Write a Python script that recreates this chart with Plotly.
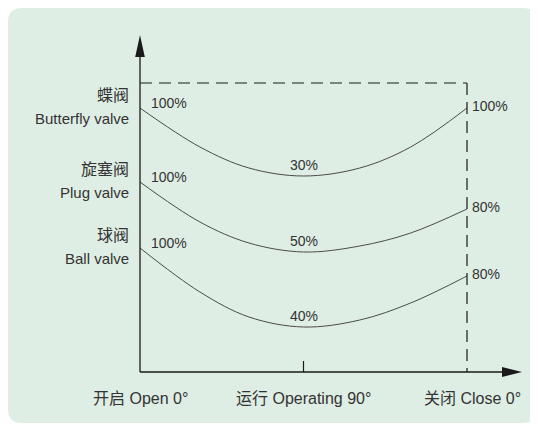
import plotly.graph_objects as go

# ---- data (schematic torque curves; heights in chart units above the x axis) ----
x_pos = [0, 33, 60, 90, 121, 149, 180]
butterfly = [264, 225, 204, 196, 204, 225, 264]
plug = [190, 150, 129, 120, 126, 139, 163]
ball = [124, 80, 55, 45, 52, 69, 96]

series_cn = ["蝶阀", "旋塞阀", "球阀"]
series_en = ["Butterfly valve", "Plug valve", "Ball valve"]
start_pct = ["100%", "100%", "100%"]
mid_pct = ["30%", "50%", "40%"]
end_pct = ["100%", "80%", "80%"]

x_ticks = [0, 90, 180]
x_tick_labels = ["开启 Open 0°", "运行 Operating 90°", "关闭 Close 0°"]

# ---- geometry (reference pixel positions, page offset compensated) ----
OFF = 8
PAD = 12
W, H = 538 - OFF, 425 - OFF
AX_L, AX_R, AX_T, AX_B = 140, 522, 35, 372      # screen pixels of axis extents
PL, PR, PT, PB = AX_L - PAD, AX_R + PAD, AX_T - PAD, AX_B + PAD   # plot area incl. padding
ML, MR, MT, MB = PL - OFF, 538 - PR, PT - OFF, 425 - PB
PW, PH = PR - PL, PB - PT
XU = 327 / 180.0          # pixels per x unit
X_MAX = (AX_R - AX_L) / XU
Y_MAX = AX_B - AX_T       # 1 y unit = 1 px
TOP_DASH = 289

FONT = "Liberation Sans, Noto Sans CJK SC, sans-serif"
TXT = "#333333"

def pxp(px):
    return (px - PL) / PW

def pyp(py):
    return (PB - py) / PH

fig = go.Figure()
for ys in [butterfly, plug, ball]:
    fig.add_trace(go.Scatter(x=x_pos, y=ys, mode="lines",
                             line=dict(color="#4a4a4a", width=1, shape="spline", smoothing=1.0),
                             hoverinfo="skip", showlegend=False))

shapes = []
# rounded background
x0, x1, y0, y1 = pxp(8), pxp(537), pyp(423), pyp(8)
rx, ry = 14 / PW, 14 / PH
path = (f"M {x0+rx},{y1} L {x1-rx},{y1} Q {x1},{y1} {x1},{y1-ry} "
        f"L {x1},{y0+ry} Q {x1},{y0} {x1-rx},{y0} L {x0+rx},{y0} "
        f"Q {x0},{y0} {x0},{y0+ry} L {x0},{y1-ry} Q {x0},{y1} {x0+rx},{y1} Z")
shapes.append(dict(type="path", path=path, xref="paper", yref="paper",
                   fillcolor="#dfeee4", line=dict(width=0), layer="below"))
# axes
shapes.append(dict(type="line", x0=0, x1=X_MAX - 8, y0=0, y1=0, xref="x", yref="y",
                   line=dict(color="#1a1a1a", width=1.3)))
shapes.append(dict(type="line", x0=0, x1=0, y0=0, y1=Y_MAX - 15, xref="x", yref="y",
                   line=dict(color="#1a1a1a", width=1.3)))
# arrowheads
ah = 4.8 / XU
shapes.append(dict(type="path", xref="x", yref="y",
                   path=f"M {-ah},{Y_MAX-22} L {ah},{Y_MAX-22} L 0,{Y_MAX} Z",
                   fillcolor="#1a1a1a", line=dict(width=0)))
xb = X_MAX - 20 / XU
shapes.append(dict(type="path", xref="x", yref="y",
                   path=f"M {xb},-5 L {xb},5 L {X_MAX},0 Z",
                   fillcolor="#1a1a1a", line=dict(width=0)))
# dashed box
shapes.append(dict(type="line", x0=0, x1=x_ticks[2], y0=TOP_DASH, y1=TOP_DASH, xref="x", yref="y",
                   line=dict(color="#1a1a1a", width=1.2, dash="12px,7px")))
shapes.append(dict(type="line", x0=x_ticks[2], x1=x_ticks[2], y0=TOP_DASH, y1=0, xref="x", yref="y",
                   line=dict(color="#1a1a1a", width=1.2, dash="12px,7px")))
# middle tick
shapes.append(dict(type="line", x0=x_ticks[1], x1=x_ticks[1], y0=0, y1=11, xref="x", yref="y",
                   line=dict(color="#1a1a1a", width=1.2)))

ann = []
curves = [butterfly, plug, ball]
for i, ys in enumerate(curves):
    ann.append(dict(x=0, y=ys[0] + 13, text=series_cn[i], xanchor="right", yanchor="middle",
                    xshift=-9, showarrow=False, font=dict(size=16, color=TXT, family=FONT)))
    ann.append(dict(x=0, y=ys[0] - 10, text=series_en[i], xanchor="right", yanchor="middle",
                    xshift=-9, showarrow=False, font=dict(size=15, color=TXT, family=FONT)))
    ann.append(dict(x=0, y=ys[0] + 5, text=start_pct[i], xanchor="left", yanchor="middle",
                    xshift=9, showarrow=False, font=dict(size=14, color=TXT, family=FONT)))
    ann.append(dict(x=x_pos[3], y=ys[3] + 11, text=mid_pct[i], xanchor="center", yanchor="middle",
                    showarrow=False, font=dict(size=14, color=TXT, family=FONT)))
    ann.append(dict(x=x_pos[-1], y=ys[-1] + 2, text=end_pct[i], xanchor="left", yanchor="middle",
                    xshift=3, showarrow=False, font=dict(size=14, color=TXT, family=FONT)))
for xv, t in zip(x_ticks, x_tick_labels):
    ann.append(dict(x=xv, xref="x", y=pyp(398), yref="paper", text=t,
                    xanchor="center", yanchor="middle",
                    xshift=5 if xv == x_ticks[2] else 0,
                    showarrow=False, font=dict(size=16, color=TXT, family=FONT)))

fig.update_layout(
    width=W, height=H,
    margin=dict(l=ML, r=MR, t=MT, b=MB, pad=0),
    paper_bgcolor="white", plot_bgcolor="rgba(0,0,0,0)",
    xaxis=dict(range=[-PAD / XU, X_MAX + PAD / XU], visible=False, fixedrange=True),
    yaxis=dict(range=[-PAD, Y_MAX + PAD], visible=False, fixedrange=True),
    shapes=shapes, annotations=ann, showlegend=False,
)
fig.write_html("out.html")
